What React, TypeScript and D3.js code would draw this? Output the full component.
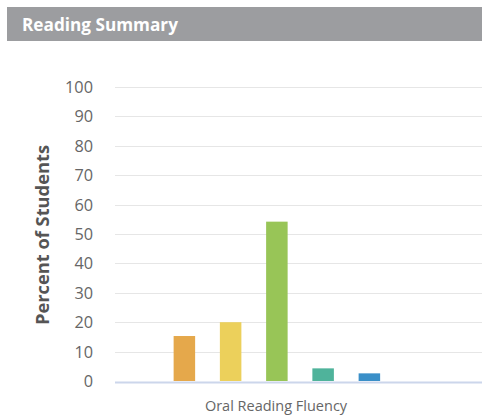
import React, { useRef, useEffect } from "react";
import * as d3 from "d3";

const title = "Reading Summary";
const yTitle = "Percent of Students";
const xTitle = "Oral Reading Fluency";
const yTicks = [0, 10, 20, 30, 40, 50, 60, 70, 80, 90, 100];
// one slot per column position; empty slots keep the spacing of the original
const slots = ["s1", "s2", "s3", "s4", "s5", "s6", "s7", "s8"];
const values = [0, 15.3, 20, 54.2, 4.3, 2.6, 0, 0];
const colors = ["#cccccc", "#e5a84b", "#ecd05b", "#98c557", "#4fb39b", "#3a8fc8", "#cccccc", "#cccccc"];

function drawChart(svgEl: SVGSVGElement, width: number, height: number) {
  const svg = d3.select(svgEl);
  svg.selectAll("*").remove();
  const font = "'Open Sans', sans-serif";

  // header bar
  svg
    .append("rect")
    .attr("x", 7)
    .attr("y", 7)
    .attr("width", width - 7)
    .attr("height", 34)
    .attr("fill", "#9c9da0");
  svg
    .append("text")
    .attr("x", 22)
    .attr("y", 30.5)
    .attr("fill", "#ffffff")
    .style("font-family", font)
    .style("font-weight", "700")
    .style("font-size", "17.2px")
    .text(title);

  const left = 115;
  const y = d3.scaleLinear().domain([0, 100]).range([381, 87]);
  const x = d3
    .scaleBand<string>()
    .domain(slots)
    .range([left, left + 370])
    .paddingInner(0.535)
    .paddingOuter(0.2675);

  // grid
  const grid = svg.append("g");
  grid
    .selectAll("line")
    .data(yTicks.slice(1))
    .enter()
    .append("line")
    .attr("x1", left)
    .attr("x2", width)
    .attr("y1", (d) => Math.round(y(d)) + 0.5)
    .attr("y2", (d) => Math.round(y(d)) + 0.5)
    .attr("stroke", "#e6e6e6")
    .attr("stroke-width", 1);

  // tick labels
  svg
    .append("g")
    .selectAll("text")
    .data(yTicks)
    .enter()
    .append("text")
    .attr("x", 93)
    .attr("y", (d) => y(d) + 6)
    .attr("text-anchor", "end")
    .attr("fill", "#666666")
    .style("font-family", font)
    .style("font-size", "16.3px")
    .text((d) => d);

  // bars
  svg
    .append("g")
    .selectAll("rect")
    .data(values)
    .enter()
    .append("rect")
    .attr("x", (_, i) => x(slots[i]) as number)
    .attr("y", (d) => y(d))
    .attr("width", x.bandwidth())
    .attr("height", (d) => y(0) - y(d))
    .attr("fill", (_, i) => colors[i]);

  // baseline
  svg
    .append("line")
    .attr("x1", left)
    .attr("x2", width)
    .attr("y1", Math.round(y(0)) + 1.5)
    .attr("y2", Math.round(y(0)) + 1.5)
    .attr("stroke", "#ccd6eb")
    .attr("stroke-width", 2);

  // axis titles
  svg
    .append("text")
    .attr("transform", `translate(49, ${(y(0) + y(100)) / 2 + 1}) rotate(-90)`)
    .attr("text-anchor", "middle")
    .attr("fill", "#555555")
    .style("font-family", font)
    .style("font-weight", "700")
    .style("font-size", "18.3px")
    .text(yTitle);

  svg
    .append("text")
    .attr("x", 276)
    .attr("y", 410.5)
    .attr("text-anchor", "middle")
    .attr("fill", "#666666")
    .style("font-family", font)
    .style("font-size", "14.5px")
    .text(xTitle);
}

const App: React.FunctionComponent = function () {
  const ref = useRef<SVGSVGElement>(null);
  const width = 482;
  const height = 415;

  useEffect(() => {
    if (ref.current == null) {
      return;
    }
    drawChart(ref.current, width, height);
  }, []);

  return (
    <svg
      ref={ref}
      width={width}
      height={height}
      style={{ position: "absolute", left: 0, top: 0, background: "#ffffff" }}
    ></svg>
  );
};

export default App;
